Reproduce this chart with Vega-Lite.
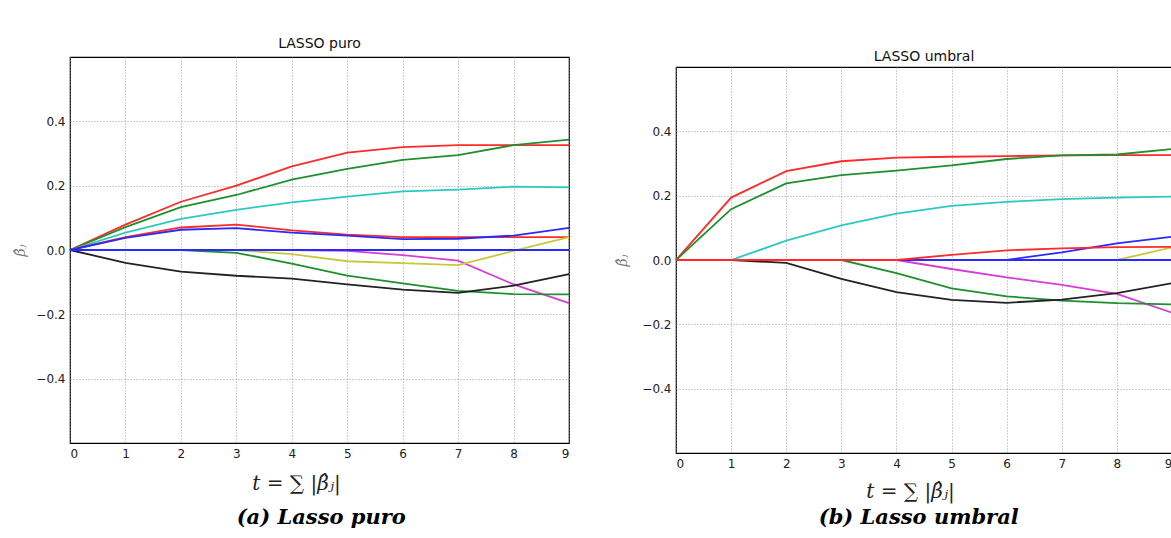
{
  "$schema": "https://vega.github.io/schema/vega-lite/v6.json",
  "background": "white",
  "padding": {"left": 13, "top": 36, "right": 0, "bottom": 0},
  "spacing": 41,
  "config": {
    "view": {"stroke": "#000", "strokeWidth": 1.2},
    "axis": {"grid": true, "gridDash": [1, 2], "gridColor": "#888", "gridOpacity": 0.8, "domain": false, "ticks": false, "labelFont": "DejaVu Sans", "labelFontSize": 12, "labelColor": "#222", "labelPadding": 5},
    "title": {"font": "DejaVu Sans", "fontSize": 14, "fontWeight": "normal", "color": "#111"},
    "line": {"strokeWidth": 1.8}
  },
  "datasets": {
    "puro": [
      {"t":0,"j":"r1","v":0},{"t":1,"j":"r1","v":0.079},{"t":2,"j":"r1","v":0.150},{"t":3,"j":"r1","v":0.200},{"t":4,"j":"r1","v":0.260},{"t":5,"j":"r1","v":0.303},{"t":6,"j":"r1","v":0.320},{"t":7,"j":"r1","v":0.326},{"t":8,"j":"r1","v":0.326},{"t":9,"j":"r1","v":0.326},
      {"t":0,"j":"g1","v":0},{"t":1,"j":"g1","v":0.071},{"t":2,"j":"g1","v":0.133},{"t":3,"j":"g1","v":0.171},{"t":4,"j":"g1","v":0.219},{"t":5,"j":"g1","v":0.252},{"t":6,"j":"g1","v":0.280},{"t":7,"j":"g1","v":0.295},{"t":8,"j":"g1","v":0.326},{"t":9,"j":"g1","v":0.343},
      {"t":0,"j":"c","v":0},{"t":1,"j":"c","v":0.054},{"t":2,"j":"c","v":0.097},{"t":3,"j":"c","v":0.125},{"t":4,"j":"c","v":0.148},{"t":5,"j":"c","v":0.166},{"t":6,"j":"c","v":0.182},{"t":7,"j":"c","v":0.188},{"t":8,"j":"c","v":0.197},{"t":9,"j":"c","v":0.195},
      {"t":0,"j":"r2","v":0},{"t":1,"j":"r2","v":0.040},{"t":2,"j":"r2","v":0.070},{"t":3,"j":"r2","v":0.079},{"t":4,"j":"r2","v":0.061},{"t":5,"j":"r2","v":0.048},{"t":6,"j":"r2","v":0.040},{"t":7,"j":"r2","v":0.040},{"t":8,"j":"r2","v":0.040},{"t":9,"j":"r2","v":0.040},
      {"t":0,"j":"b1","v":0},{"t":1,"j":"b1","v":0.038},{"t":2,"j":"b1","v":0.063},{"t":3,"j":"b1","v":0.068},{"t":4,"j":"b1","v":0.054},{"t":5,"j":"b1","v":0.045},{"t":6,"j":"b1","v":0.034},{"t":7,"j":"b1","v":0.035},{"t":8,"j":"b1","v":0.045},{"t":9,"j":"b1","v":0.069},
      {"t":0,"j":"m","v":0},{"t":1,"j":"m","v":0},{"t":2,"j":"m","v":0},{"t":3,"j":"m","v":0},{"t":4,"j":"m","v":0},{"t":5,"j":"m","v":-0.003},{"t":6,"j":"m","v":-0.016},{"t":7,"j":"m","v":-0.033},{"t":8,"j":"m","v":-0.107},{"t":9,"j":"m","v":-0.165},
      {"t":0,"j":"y","v":0},{"t":1,"j":"y","v":0},{"t":2,"j":"y","v":0},{"t":3,"j":"y","v":0},{"t":4,"j":"y","v":-0.013},{"t":5,"j":"y","v":-0.035},{"t":6,"j":"y","v":-0.041},{"t":7,"j":"y","v":-0.047},{"t":8,"j":"y","v":-0.003},{"t":9,"j":"y","v":0.040},
      {"t":0,"j":"g2","v":0},{"t":1,"j":"g2","v":0},{"t":2,"j":"g2","v":0},{"t":3,"j":"g2","v":-0.009},{"t":4,"j":"g2","v":-0.042},{"t":5,"j":"g2","v":-0.080},{"t":6,"j":"g2","v":-0.104},{"t":7,"j":"g2","v":-0.127},{"t":8,"j":"g2","v":-0.137},{"t":9,"j":"g2","v":-0.138},
      {"t":0,"j":"k","v":0},{"t":1,"j":"k","v":-0.040},{"t":2,"j":"k","v":-0.067},{"t":3,"j":"k","v":-0.080},{"t":4,"j":"k","v":-0.089},{"t":5,"j":"k","v":-0.107},{"t":6,"j":"k","v":-0.123},{"t":7,"j":"k","v":-0.133},{"t":8,"j":"k","v":-0.111},{"t":9,"j":"k","v":-0.075},
      {"t":0,"j":"b2","v":0},{"t":1,"j":"b2","v":0},{"t":2,"j":"b2","v":0},{"t":3,"j":"b2","v":0},{"t":4,"j":"b2","v":0},{"t":5,"j":"b2","v":0},{"t":6,"j":"b2","v":0},{"t":7,"j":"b2","v":0},{"t":8,"j":"b2","v":0},{"t":9,"j":"b2","v":0}
    ],
    "umbral": [
      {"t":0,"j":"r1","v":0},{"t":1,"j":"r1","v":0.194},{"t":2,"j":"r1","v":0.276},{"t":3,"j":"r1","v":0.307},{"t":4,"j":"r1","v":0.318},{"t":5,"j":"r1","v":0.321},{"t":6,"j":"r1","v":0.323},{"t":7,"j":"r1","v":0.325},{"t":8,"j":"r1","v":0.326},{"t":9,"j":"r1","v":0.326},
      {"t":0,"j":"g1","v":0},{"t":1,"j":"g1","v":0.158},{"t":2,"j":"g1","v":0.238},{"t":3,"j":"g1","v":0.264},{"t":4,"j":"g1","v":0.278},{"t":5,"j":"g1","v":0.294},{"t":6,"j":"g1","v":0.314},{"t":7,"j":"g1","v":0.325},{"t":8,"j":"g1","v":0.328},{"t":9,"j":"g1","v":0.345},
      {"t":0,"j":"c","v":0},{"t":1,"j":"c","v":0},{"t":2,"j":"c","v":0.060},{"t":3,"j":"c","v":0.108},{"t":4,"j":"c","v":0.144},{"t":5,"j":"c","v":0.168},{"t":6,"j":"c","v":0.181},{"t":7,"j":"c","v":0.189},{"t":8,"j":"c","v":0.194},{"t":9,"j":"c","v":0.197},
      {"t":0,"j":"b1","v":0},{"t":1,"j":"b1","v":0},{"t":2,"j":"b1","v":0},{"t":3,"j":"b1","v":0},{"t":4,"j":"b1","v":0},{"t":5,"j":"b1","v":0},{"t":6,"j":"b1","v":0},{"t":7,"j":"b1","v":0.024},{"t":8,"j":"b1","v":0.052},{"t":9,"j":"b1","v":0.072},
      {"t":0,"j":"m","v":0},{"t":1,"j":"m","v":0},{"t":2,"j":"m","v":0},{"t":3,"j":"m","v":0},{"t":4,"j":"m","v":0},{"t":5,"j":"m","v":-0.028},{"t":6,"j":"m","v":-0.054},{"t":7,"j":"m","v":-0.077},{"t":8,"j":"m","v":-0.105},{"t":9,"j":"m","v":-0.164},
      {"t":0,"j":"y","v":0},{"t":1,"j":"y","v":0},{"t":2,"j":"y","v":0},{"t":3,"j":"y","v":0},{"t":4,"j":"y","v":0},{"t":5,"j":"y","v":0},{"t":6,"j":"y","v":0},{"t":7,"j":"y","v":0},{"t":8,"j":"y","v":0},{"t":9,"j":"y","v":0.039},
      {"t":0,"j":"g2","v":0},{"t":1,"j":"g2","v":0},{"t":2,"j":"g2","v":0},{"t":3,"j":"g2","v":0},{"t":4,"j":"g2","v":-0.041},{"t":5,"j":"g2","v":-0.088},{"t":6,"j":"g2","v":-0.113},{"t":7,"j":"g2","v":-0.126},{"t":8,"j":"g2","v":-0.134},{"t":9,"j":"g2","v":-0.138},
      {"t":0,"j":"k","v":0},{"t":1,"j":"k","v":0},{"t":2,"j":"k","v":-0.009},{"t":3,"j":"k","v":-0.059},{"t":4,"j":"k","v":-0.100},{"t":5,"j":"k","v":-0.124},{"t":6,"j":"k","v":-0.133},{"t":7,"j":"k","v":-0.123},{"t":8,"j":"k","v":-0.103},{"t":9,"j":"k","v":-0.072},
      {"t":0,"j":"b2","v":0},{"t":1,"j":"b2","v":0},{"t":2,"j":"b2","v":0},{"t":3,"j":"b2","v":0},{"t":4,"j":"b2","v":0},{"t":5,"j":"b2","v":0},{"t":6,"j":"b2","v":0},{"t":7,"j":"b2","v":0},{"t":8,"j":"b2","v":0},{"t":9,"j":"b2","v":0},
      {"t":0,"j":"r2","v":0},{"t":1,"j":"r2","v":0},{"t":2,"j":"r2","v":0},{"t":3,"j":"r2","v":0},{"t":4,"j":"r2","v":0},{"t":5,"j":"r2","v":0.016},{"t":6,"j":"r2","v":0.030},{"t":7,"j":"r2","v":0.036},{"t":8,"j":"r2","v":0.040},{"t":9,"j":"r2","v":0.041}
    ],
    "spacer": [{"s": 0}]
  },
  "hconcat": [
    {
      "title": {"text": "(a) Lasso puro", "orient": "bottom", "anchor": "middle", "offset": 13, "dx": 28, "font": "DejaVu Serif", "fontSize": 21, "fontWeight": "bold", "fontStyle": "italic", "color": "#000"},
      "vconcat": [
        {
          "width": 499,
          "height": 386,
          "title": {"text": "LASSO puro", "offset": 6},
          "data": {"name": "puro"},
          "mark": {"type": "line", "strokeWidth": 1.8},
          "encoding": {
            "x": {"field": "t", "type": "quantitative", "scale": {"domain": [0, 9], "nice": false},
                  "axis": {"values": [0,1,2,3,4,5,6,7,8,9], "format": "d", "labelAngle": 0, "title": "t = ∑ |β̂ⱼ|", "titleX": 226, "titleFont": "DejaVu Serif", "titleFontSize": 20, "titleFontStyle": "italic", "titleFontWeight": "normal", "titleColor": "#222", "titlePadding": 14}},
            "y": {"field": "v", "type": "quantitative", "scale": {"domain": [-0.6, 0.6], "nice": false},
                  "axis": {"values": [-0.4, -0.2, 0, 0.2, 0.4], "format": ".1f", "title": "β̂ⱼ", "titleFont": "DejaVu Serif", "titleFontSize": 14, "titleFontStyle": "italic", "titleFontWeight": "normal", "titleColor": "#777", "titlePadding": 8}},
            "color": {"field": "j", "type": "nominal", "legend": null,
                      "scale": {"domain": ["b1","b2","g1","g2","r1","r2","c","m","y","k"],
                                "range": ["#2a2aff","#2a2aff","#1f8f2f","#1f8f2f","#ff2a2a","#ff2a2a","#2cc9c0","#d63cd6","#c8c83a","#222222"]}}
          }
        }
      ]
    },
    {
      "title": {"text": "(b) Lasso umbral", "orient": "bottom", "anchor": "middle", "offset": 5, "dx": 23, "font": "DejaVu Serif", "fontSize": 21, "fontWeight": "bold", "fontStyle": "italic", "color": "#000"},
      "spacing": -12,
      "vconcat": [
        {
          "width": 496,
          "height": 1,
          "view": {"stroke": null},
          "data": {"name": "spacer"},
          "mark": {"type": "point", "opacity": 0},
          "encoding": {}
        },
        {
          "width": 496,
          "height": 386,
          "title": {"text": "LASSO umbral", "offset": 3},
          "data": {"name": "umbral"},
          "mark": {"type": "line", "strokeWidth": 1.8},
          "encoding": {
            "x": {"field": "t", "type": "quantitative", "scale": {"domain": [0, 9], "nice": false},
                  "axis": {"values": [0,1,2,3,4,5,6,7,8,9], "format": "d", "labelAngle": 0, "title": "t = ∑ |β̂ⱼ|", "titleX": 234, "titleFont": "DejaVu Serif", "titleFontSize": 20, "titleFontStyle": "italic", "titleFontWeight": "normal", "titleColor": "#222", "titlePadding": 12}},
            "y": {"field": "v", "type": "quantitative", "scale": {"domain": [-0.6, 0.6], "nice": false},
                  "axis": {"values": [-0.4, -0.2, 0, 0.2, 0.4], "format": ".1f", "title": "β̂ⱼ", "titleFont": "DejaVu Serif", "titleFontSize": 14, "titleFontStyle": "italic", "titleFontWeight": "normal", "titleColor": "#777", "titlePadding": 12}},
            "color": {"field": "j", "type": "nominal", "legend": null,
                      "scale": {"domain": ["b1","b2","g1","g2","r1","r2","c","m","y","k"],
                                "range": ["#2a2aff","#2a2aff","#1f8f2f","#1f8f2f","#ff2a2a","#ff2a2a","#2cc9c0","#d63cd6","#c8c83a","#222222"]}}
          }
        }
      ]
    }
  ]
}
